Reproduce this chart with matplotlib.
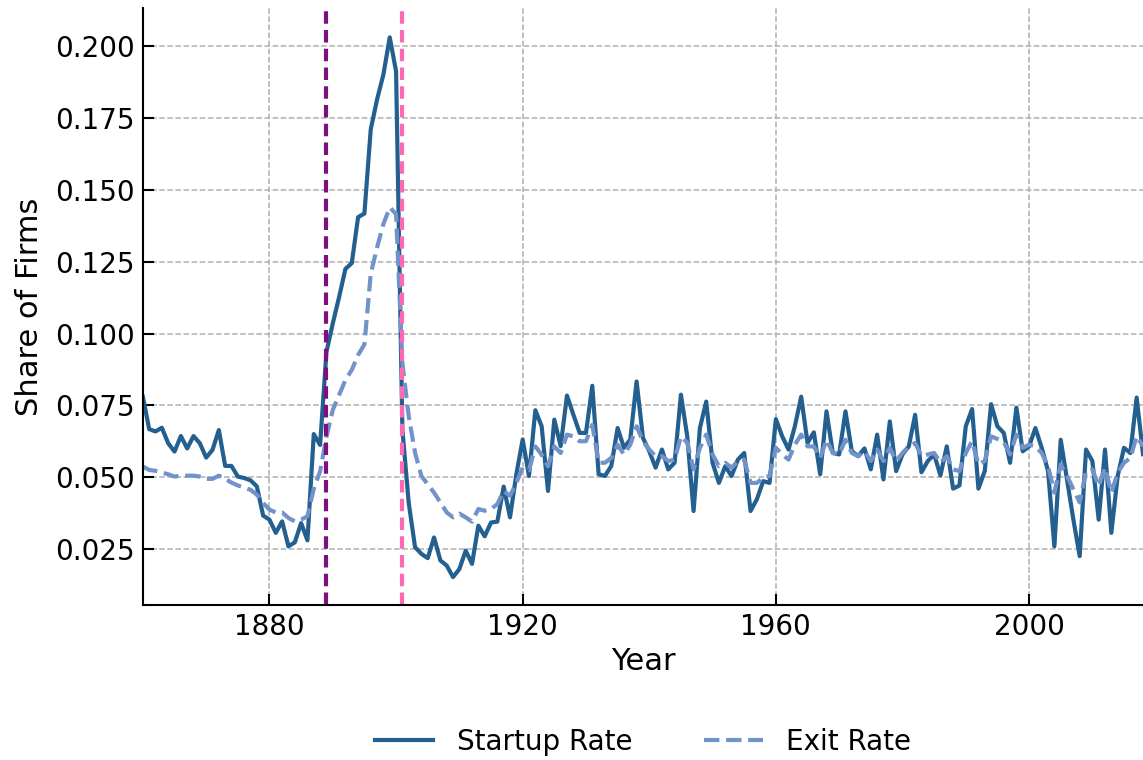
import numpy as np
import matplotlib
matplotlib.use("Agg")
import matplotlib.pyplot as plt
from matplotlib.ticker import MultipleLocator

# yearly rates
years = list(range(1860, 2019))

startup_rate = [
    0.078, 0.0667, 0.0659, 0.0672, 0.0618, 0.0589, 0.0643, 0.0600, 0.0643, 0.0618,  # 1860s
    0.0568, 0.0595, 0.0664, 0.0539, 0.0539, 0.0502, 0.0497, 0.0489, 0.0468, 0.0366,  # 1870s
    0.0352, 0.0306, 0.0346, 0.0259, 0.0273, 0.0340, 0.0280, 0.0650, 0.0612, 0.0936,  # 1880s
    0.1035, 0.1127, 0.1225, 0.1245, 0.1405, 0.1418, 0.1711, 0.1815, 0.1902, 0.2031,  # 1890s
    0.1913, 0.0665, 0.0410, 0.0256, 0.0233, 0.0218, 0.0290, 0.0210, 0.0192, 0.0152,  # 1900s
    0.0180, 0.0244, 0.0198, 0.0331, 0.0294, 0.0342, 0.0345, 0.0467, 0.0360, 0.0510,  # 1910s
    0.0631, 0.0504, 0.0733, 0.0677, 0.0452, 0.0700, 0.0608, 0.0784, 0.0718, 0.0654,  # 1920s
    0.0654, 0.0818, 0.0510, 0.0504, 0.0539, 0.0671, 0.0602, 0.0631, 0.0833, 0.0637,  # 1930s
    0.0590, 0.0533, 0.0596, 0.0527, 0.0550, 0.0787, 0.0642, 0.0382, 0.0671, 0.0763,  # 1940s
    0.0550, 0.0480, 0.0538, 0.0504, 0.0561, 0.0584, 0.0382, 0.0423, 0.0486, 0.0480,  # 1950s
    0.0702, 0.0642, 0.0596, 0.0677, 0.0780, 0.0619, 0.0656, 0.0510, 0.0729, 0.0584,  # 1960s
    0.0579, 0.0729, 0.0590, 0.0573, 0.0600, 0.0527, 0.0648, 0.0492, 0.0694, 0.0521,  # 1970s
    0.0579, 0.0607, 0.0717, 0.0517, 0.0556, 0.0579, 0.0506, 0.0607, 0.0460, 0.0471,  # 1980s
    0.0677, 0.0737, 0.0460, 0.0521, 0.0754, 0.0677, 0.0654, 0.0550, 0.0742, 0.0590,  # 1990s
    0.0607, 0.0671, 0.0602, 0.0521, 0.0259, 0.0630, 0.0492, 0.0352, 0.0225, 0.0596,  # 2000s
    0.0556, 0.0352, 0.0596, 0.0306, 0.0504, 0.0602, 0.0584, 0.0777, 0.0580,          # 2010s
]

exit_rate = [
    0.0537, 0.0525, 0.0522, 0.0516, 0.0510, 0.0502, 0.0505, 0.0505, 0.0505, 0.0502,  # 1860s
    0.0494, 0.0494, 0.0505, 0.0494, 0.0481, 0.0471, 0.0464, 0.0456, 0.0439, 0.0410,  # 1870s
    0.0387, 0.0377, 0.0377, 0.0358, 0.0346, 0.0352, 0.0364, 0.0460, 0.0520, 0.0640,  # 1880s
    0.0734, 0.0786, 0.0838, 0.0873, 0.0925, 0.0962, 0.1208, 0.1300, 0.1381, 0.1439,  # 1890s
    0.1416, 0.0896, 0.0712, 0.0585, 0.0504, 0.0475, 0.0446, 0.0412, 0.0377, 0.0360,  # 1900s
    0.0373, 0.0360, 0.0345, 0.0389, 0.0383, 0.0389, 0.0406, 0.0452, 0.0435, 0.0480,  # 1910s
    0.0533, 0.0524, 0.0607, 0.0578, 0.0538, 0.0607, 0.0584, 0.0648, 0.0642, 0.0625,  # 1920s
    0.0625, 0.0682, 0.0550, 0.0550, 0.0567, 0.0613, 0.0579, 0.0613, 0.0677, 0.0625,  # 1930s
    0.0596, 0.0573, 0.0573, 0.0556, 0.0561, 0.0642, 0.0620, 0.0527, 0.0602, 0.0648,  # 1940s
    0.0579, 0.0538, 0.0550, 0.0533, 0.0556, 0.0561, 0.0480, 0.0480, 0.0498, 0.0504,  # 1950s
    0.0602, 0.0579, 0.0561, 0.0613, 0.0648, 0.0607, 0.0607, 0.0567, 0.0630, 0.0584,  # 1960s
    0.0579, 0.0630, 0.0584, 0.0573, 0.0590, 0.0556, 0.0596, 0.0556, 0.0602, 0.0556,  # 1970s
    0.0584, 0.0607, 0.0619, 0.0573, 0.0579, 0.0584, 0.0550, 0.0573, 0.0527, 0.0521,  # 1980s
    0.0584, 0.0625, 0.0544, 0.0556, 0.0642, 0.0633, 0.0622, 0.0579, 0.0648, 0.0602,  # 1990s
    0.0613, 0.0607, 0.0584, 0.0538, 0.0446, 0.0544, 0.0504, 0.0458, 0.0412, 0.0521,  # 2000s
    0.0527, 0.0469, 0.0533, 0.0446, 0.0515, 0.0550, 0.0567, 0.0642, 0.0607,          # 2010s
]

event_years = [1889, 1901]
event_colors = ["#7d0f80", "#ff69b4"]

fig, ax = plt.subplots(figsize=(11.43, 7.6), dpi=100)
fig.subplots_adjust(left=0.125, right=1.0, top=0.989, bottom=0.204)

ax.plot(years, startup_rate, color="#235f8f", linewidth=3, label="Startup Rate")
ax.plot(years, exit_rate, color="#7293ca", linewidth=3, linestyle="--", label="Exit Rate")

for yr, col in zip(event_years, event_colors):
    ax.axvline(yr, color=col, linewidth=3, linestyle="--", dashes=(3, 1.5))

ax.set_xlim(1860, 2018)
ax.set_ylim(0.0055, 0.2132)
ax.xaxis.set_major_locator(MultipleLocator(40))
ax.yaxis.set_major_locator(MultipleLocator(0.025))
ax.yaxis.set_major_formatter(matplotlib.ticker.FormatStrFormatter("%.3f"))

ax.grid(True, linestyle="--", color="#b0b0b0", linewidth=1.1)
ax.set_axisbelow(True)
ax.spines["top"].set_visible(False)
ax.spines["right"].set_visible(False)
ax.spines["left"].set_linewidth(1.5)
ax.spines["bottom"].set_linewidth(1.5)
ax.tick_params(direction="in", length=8, width=1.5, labelsize=20, pad=6)

ax.set_xlabel("Year", fontsize=22, labelpad=4)
ax.set_ylabel("Share of Firms", fontsize=22, labelpad=8)

fig.legend(loc="center", bbox_to_anchor=(0.5626, 0.024), ncol=2, frameon=False,
           fontsize=20, handlelength=2.1, handletextpad=0.85, columnspacing=2.6)

fig.savefig("out.png", dpi=100)
